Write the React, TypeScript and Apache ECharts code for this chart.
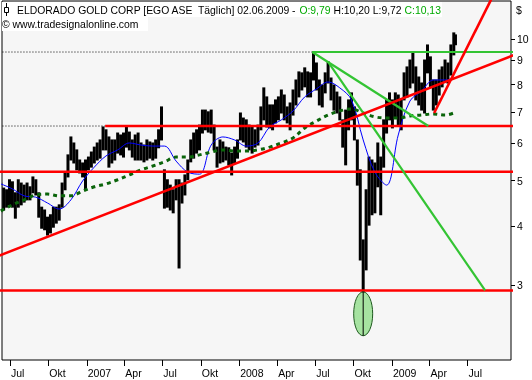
import React, { useEffect, useRef } from "react";
import * as echarts from "echarts";

// ---------- data ----------
const FIRST_WEEK = "2006-06-09"; // first weekly bar (Friday), one bar per week after that
const weeklyHigh = [
  4.94, 4.82, 4.78, 5.02, 4.97, 4.71, 5.02, 4.94, 4.89, 4.94,
  4.85, 5.09, 5.02, 4.71, 4.39, 4.33, 4.18, 4.23, 4.39, 4.39,
  4.44, 4.94, 5.21, 5.67, 6.19, 6.01, 5.81, 5.53, 5.45, 5.53,
  5.61, 5.75, 5.89, 6.01, 6.10, 6.50, 6.41, 6.19, 6.10, 6.10,
  6.31, 6.25, 6.31, 6.50, 6.34, 6.10, 6.25, 6.31, 6.01, 5.95,
  6.10, 6.04, 6.01, 6.10, 6.41, 7.17, 5.27, 5.02, 4.89, 4.78,
  5.02, 5.02, 4.94, 5.14, 5.53, 6.10, 6.31, 6.41, 6.56, 7.06,
  7.06, 7.00, 7.06, 6.56, 5.89, 6.10, 6.04, 5.89, 5.87, 5.72,
  5.89, 6.10, 6.96, 6.79, 6.73, 6.56, 6.50, 6.41, 6.56, 7.17,
  7.87, 7.53, 7.24, 7.24, 7.42, 7.53, 7.79, 7.60, 7.17, 7.31,
  7.79, 8.18, 8.51, 8.47, 8.68, 8.51, 8.47, 9.38, 8.89, 8.18,
  7.98, 8.47, 8.94, 8.26, 7.98, 7.71, 7.53, 6.73, 7.06, 7.42,
  7.68, 7.17, 6.10, 5.27, 3.74, 4.78, 5.61, 5.53, 5.45, 6.01,
  5.61, 6.73, 7.42, 7.68, 7.42, 7.68, 7.60, 7.42, 8.47, 8.72,
  9.02, 9.34, 8.72, 8.30, 8.06, 9.02, 9.71, 9.16, 8.18, 8.18,
  8.59, 8.72, 9.02, 8.89, 9.71, 10.30,
];
const weeklyLow = [
  4.27, 4.33, 4.39, 4.44, 4.39, 4.16, 4.39, 4.44, 4.50, 4.55,
  4.55, 4.71, 4.66, 4.18, 3.96, 3.93, 3.83, 3.87, 3.98, 4.06,
  4.12, 4.39, 4.78, 5.09, 5.53, 5.45, 5.27, 5.19, 5.09, 4.78,
  5.27, 5.34, 5.45, 5.53, 5.58, 5.81, 5.81, 5.34, 5.45, 5.53,
  5.72, 5.67, 5.61, 5.89, 5.81, 5.61, 5.53, 5.53, 5.53, 5.48,
  5.53, 5.58, 5.53, 5.58, 5.87, 6.10, 4.37, 4.39, 4.33, 4.27,
  4.55, 3.26, 4.48, 4.66, 5.02, 5.48, 5.58, 5.72, 5.81, 6.31,
  6.41, 6.34, 6.31, 5.81, 5.34, 5.45, 5.48, 5.53, 5.40, 5.14,
  5.45, 5.58, 6.10, 6.04, 5.89, 5.81, 5.72, 5.89, 5.95, 6.41,
  6.73, 6.50, 6.47, 6.41, 6.63, 6.73, 6.96, 6.73, 6.63, 6.41,
  6.89, 7.24, 7.53, 7.79, 7.91, 7.53, 7.53, 8.18, 7.79, 7.24,
  7.17, 7.68, 8.06, 7.42, 7.06, 6.96, 6.73, 5.89, 5.40, 6.41,
  6.73, 6.10, 4.89, 3.39, 2.83, 3.23, 4.02, 4.23, 4.27, 4.85,
  4.23, 5.34, 6.31, 6.73, 6.47, 6.83, 6.56, 6.41, 7.42, 7.53,
  7.87, 8.06, 7.42, 7.24, 7.06, 6.96, 8.47, 7.91, 7.06, 7.24,
  7.60, 7.91, 8.10, 8.06, 8.38, 9.25,
];
const lastBarDate = "2009-06-02";
const lastBarHigh = 10.2;
const lastBarLow = 9.72;

// moving averages, sampled at these weekly bar indexes
const maWeekIndex = [0, 4, 8, 12, 16, 20, 24, 28, 32, 36, 40, 44, 48, 52, 56, 60, 64, 68, 72, 76,
  80, 84, 88, 92, 96, 100, 104, 108, 112, 116, 120, 124, 128, 132, 136, 140, 144, 148, 152, 155];
const blueAverage = [4.92, 4.80, 4.64, 4.61, 4.48, 4.35, 4.55, 4.99, 5.34, 5.64, 5.81, 6.01, 5.95, 5.92,
  5.92, 5.50, 5.21, 5.16, 5.95, 6.19, 6.10, 5.92, 6.01, 6.50, 6.73, 7.03, 7.53, 7.83, 8.10, 7.87,
  7.42, 6.10, 5.21, 4.89, 6.25, 7.38, 7.75, 8.18, 8.18, 8.26];
const greenAverage = [4.31, 4.44, 4.55, 4.66, 4.68, 4.64, 4.64, 4.75, 4.85, 4.92, 5.02, 5.14, 5.27, 5.37,
  5.48, 5.61, 5.61, 5.67, 5.75, 5.81, 5.78, 5.78, 5.81, 5.89, 6.01, 6.16, 6.47, 6.69, 6.89, 7.03,
  7.10, 6.96, 6.83, 6.79, 6.79, 6.86, 6.89, 6.93, 6.89, 6.96];

// drawn levels and trend lines
const redLevels = [2.92, 5.22, 6.53];
const redLevelStart = ["2006-05-01", "2006-05-01", "2007-02-14"];
const greenLevel = 9.38;
const greenLevelStart = "2008-06-24";
const redTrendLong: [string, number][] = [["2006-05-24", 3.43], ["2009-10-24", 9.27]];
const redTrendSteep: [string, number][] = [["2009-04-12", 6.96], ["2009-09-07", 12.71]];
const greenTrendA: [string, number][] = [["2008-06-24", 9.38], ["2009-03-29", 6.53]];
const greenTrendB: [string, number][] = [["2008-08-01", 8.94], ["2009-08-12", 2.92]];
const ellipseMark = { date: "2008-10-24", top: 2.9, bottom: 2.34 };

// axes
const xMin = "2006-06-12";
const xMax = "2009-10-13";
const xTickDates = ["2006-07-01", "2006-10-01", "2007-01-01", "2007-04-01", "2007-07-01", "2007-10-01",
  "2008-01-01", "2008-04-01", "2008-07-01", "2008-10-01", "2009-01-01", "2009-04-01", "2009-07-01"];
const xTickLabels = ["Jul", "Okt", "2007", "Apr", "Jul", "Okt", "2008", "Apr", "Jul", "Okt", "2009", "Apr", "Jul"];
const yTickValues = [3, 4, 5, 6, 7, 8, 9, 10];
const yMinPrice = 2.078;
const yMaxPrice = 12.04;

// ---------- helpers ----------
const DAY = 86400000;
const ts = (s: string) => Date.parse(s);
const L = (p: number) => Math.log10(p);
const FONT = '"Liberation Sans", Arial, sans-serif';

export default function App() {
  const ref = useRef<HTMLDivElement>(null);

  useEffect(() => {
    if (!ref.current) return;
    const chart = echarts.init(ref.current, undefined, { renderer: "svg" });

    const start = ts(FIRST_WEEK);
    const weekTs = weeklyHigh.map((_, i) => start + i * 7 * DAY);
    const barData = weeklyHigh.map((h, i) => [weekTs[i], L(h), L(weeklyLow[i])]);
    barData.push([ts(lastBarDate), L(lastBarHigh), L(lastBarLow)]);

    const xTickTs = xTickDates.map(ts);
    const farRight = "2009-12-31";
    const farLeft = "2006-05-01";

    const seg = (pts: [string, number][], color: string, width: number, type: any = "solid", z = 5) => ({
      type: "line",
      data: pts.map(([d, p]) => [ts(d), L(p)]),
      showSymbol: false,
      symbol: "none",
      clip: true,
      silent: true,
      z,
      lineStyle: { color, width, type, cap: "butt" },
    });

    const series: any[] = [
      {
        type: "custom",
        clip: true,
        z: 2,
        silent: true,
        data: barData,
        encode: { x: 0, y: [1, 2] },
        renderItem: (_p: any, api: any) => {
          const hi = api.coord([api.value(0), api.value(1)]);
          const lo = api.coord([api.value(0), api.value(2)]);
          return {
            type: "line",
            shape: { x1: hi[0], y1: hi[1] - 0.5, x2: lo[0], y2: lo[1] + 0.5 },
            style: { stroke: "#000", lineWidth: 3 },
          };
        },
      },
      {
        type: "line",
        data: maWeekIndex.map((wi, k) => [weekTs[wi], L(blueAverage[k])]),
        showSymbol: false,
        symbol: "none",
        smooth: 0.35,
        z: 3,
        silent: true,
        lineStyle: { color: "#0000ff", width: 1 },
      },
      {
        type: "line",
        data: maWeekIndex.map((wi, k) => [weekTs[wi], L(greenAverage[k])]),
        showSymbol: false,
        symbol: "none",
        smooth: 0.35,
        z: 3,
        silent: true,
        lineStyle: { color: "#0a640a", width: 3, type: [4, 4], cap: "butt" },
      },
      seg([[farLeft, redLevels[2]], [redLevelStart[2], redLevels[2]]], "#000", 1, [1, 2], 4),
      seg([[farLeft, greenLevel], [greenLevelStart, greenLevel]], "#000", 1, [1, 2], 4),
      ...redLevels.map((lv, k) => seg([[redLevelStart[k], lv], [farRight, lv]], "#ff0000", 2.6)),
      seg([[greenLevelStart, greenLevel], [farRight, greenLevel]], "#33c433", 2.2),
      seg(greenTrendA, "#33c433", 2.2),
      seg(greenTrendB, "#33c433", 2.2),
      seg(redTrendLong, "#ff0000", 2.6),
      seg(redTrendSteep, "#ff0000", 2.6),
      {
        type: "custom",
        z: 6,
        silent: true,
        data: [[ts(ellipseMark.date), L(ellipseMark.top), L(ellipseMark.bottom)]],
        encode: { x: 0, y: [1, 2] },
        renderItem: (_p: any, api: any) => {
          const t = api.coord([api.value(0), api.value(1)]);
          const b = api.coord([api.value(0), api.value(2)]);
          const cy = (t[1] + b[1]) / 2;
          return {
            type: "group",
            children: [
              {
                type: "ellipse",
                shape: { cx: t[0], cy, rx: 9.5, ry: (b[1] - t[1]) / 2 },
                style: { fill: "#a6e3a1", stroke: "#1e5a1e", lineWidth: 1 },
              },
              {
                type: "line",
                shape: { x1: t[0], y1: t[1], x2: t[0], y2: b[1] },
                style: { stroke: "#000", lineWidth: 1 },
              },
            ],
          };
        },
      },
    ];

    const titleRich = {
      k: { fill: "#000", font: `10.4px ${FONT}` },
      g: { fill: "#00aa00", font: `10.4px ${FONT}` },
    };

    chart.setOption({
      animation: false,
      grid: {
        left: 2,
        right: 21,
        top: 1,
        bottom: 20,
        show: true,
        backgroundColor: "#f6f6f6",
        borderColor: "#000",
        borderWidth: 1,
        outerBoundsMode: "none",
      },
      xAxis: {
        type: "value",
        min: ts(xMin),
        max: ts(xMax),
        axisLine: { show: false },
        splitLine: { show: false },
        axisTick: { show: true, length: 6, customValues: xTickTs, lineStyle: { color: "#000", width: 1 } },
        axisLabel: {
          customValues: xTickTs,
          formatter: (v: number) => {
            const idx = xTickTs.findIndex((t) => Math.abs(t - v) < DAY);
            return idx >= 0 ? xTickLabels[idx] : "";
          },
          align: "left",
          margin: 7,
          padding: [0, 0, 0, 1],
          color: "#000",
          fontSize: 10.5,
          fontFamily: FONT,
        },
      },
      yAxis: {
        type: "value",
        position: "right",
        min: L(yMinPrice),
        max: L(yMaxPrice),
        axisLine: { show: false },
        splitLine: { show: false },
        axisTick: { show: true, length: 4, customValues: yTickValues.map(L), lineStyle: { color: "#000" } },
        axisLabel: {
          customValues: yTickValues.map(L),
          formatter: (v: number) => String(Math.round(Math.pow(10, v))),
          margin: 6,
          color: "#000",
          fontSize: 10.5,
          fontFamily: FONT,
        },
      },
      graphic: [
        { type: "rect", z: 100, shape: { x: 2, y: 2, width: 440, height: 15 }, style: { fill: "#fff" } },
        { type: "rect", z: 100, shape: { x: 2, y: 17, width: 146, height: 14 }, style: { fill: "#fff" } },
        { type: "line", z: 101, shape: { x1: 6.5, y1: 3, x2: 6.5, y2: 16 }, style: { stroke: "#000", lineWidth: 1 } },
        { type: "rect", z: 102, shape: { x: 4.5, y: 7.5, width: 4, height: 5 }, style: { fill: "#fff", stroke: "#000", lineWidth: 1 } },
        {
          type: "text",
          z: 103,
          style: {
            x: 17,
            y: 10,
            verticalAlign: "middle",
            text: "{k|ELDORADO GOLD CORP [EGO ASE  Täglich] 02.06.2009 - }{g|O:9,79}{k| H:10,20 L:9,72 }{g|C:10,13}",
            rich: titleRich,
            font: `10.4px ${FONT}`,
            fill: "#000",
          },
        },
        {
          type: "text",
          z: 103,
          style: { x: 2, y: 24, verticalAlign: "middle", text: "© www.tradesignalonline.com", font: `10.4px ${FONT}`, fill: "#000" },
        },
        {
          type: "text",
          z: 103,
          style: { x: 516, y: 10, verticalAlign: "middle", text: "$", font: `10.5px ${FONT}`, fill: "#000" },
        },
      ],
      series,
    });

    return () => chart.dispose();
  }, []);

  return <div ref={ref} style={{ position: "fixed", left: 0, top: 0, width: 532, height: 380 }} />;
}
